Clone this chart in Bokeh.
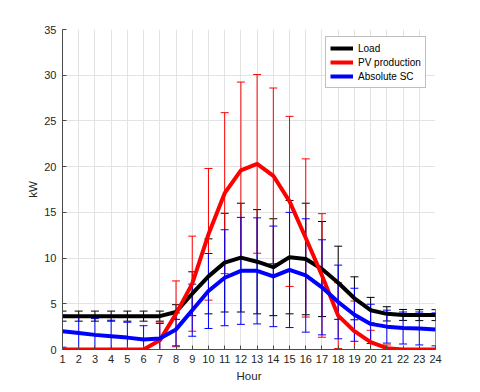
from bokeh.plotting import figure
from bokeh.models import ColumnDataSource, Whisker, TeeHead, FixedTicker, Range1d
from bokeh.embed import file_html
from bokeh.resources import INLINE

hours = list(range(1, 25))

load_mean = [3.65, 3.65, 3.65, 3.65, 3.65, 3.65, 3.65, 4.1, 6.1, 8.0, 9.5, 10.05,
             9.6, 9.0, 10.1, 9.9, 8.8, 7.3, 5.6, 4.3, 3.9, 3.78, 3.76, 3.76]
load_std = [0.55, 0.55, 0.55, 0.55, 0.55, 0.55, 0.55, 0.8, 2.4, 4.1, 5.4, 5.95,
            5.7, 5.3, 6.2, 6.1, 5.2, 4.0, 2.35, 1.4, 0.78, 0.6, 0.6, 0.6]

pv_mean = [0, 0, 0, 0, 0, 0, 1.0, 3.9, 7.2, 12.6, 17.1, 19.6,
           20.3, 19.0, 16.2, 12.2, 8.1, 3.7, 2.0, 0.8, 0.15, 0, 0, 0]
pv_std = [0, 0, 0, 0, 0, 0, 2.0, 3.6, 5.2, 7.2, 8.8, 9.65,
          9.77, 9.6, 9.3, 8.65, 6.76, 3.6, 3.3, 1.3, 0.35, 0, 0, 0]

sc_mean = [2.0, 1.8, 1.6, 1.45, 1.3, 1.1, 1.2, 2.2, 4.3, 6.4, 7.85, 8.6,
           8.6, 8.0, 8.7, 8.1, 6.8, 5.2, 3.8, 2.8, 2.5, 2.35, 2.3, 2.2]
sc_std = [1.75, 1.84, 1.78, 1.75, 1.68, 1.5, 1.65, 1.8, 2.85, 4.1, 5.25, 5.85,
          5.8, 5.5, 6.3, 6.2, 5.2, 4.03, 2.9, 2.15, 1.8, 1.75, 1.8, 1.8]

series = [
    ("Load", load_mean, load_std, "#000000"),
    ("PV production", pv_mean, pv_std, "#ff0000"),
    ("Absolute SC", sc_mean, sc_std, "#0000ff"),
]

x_ticks = list(range(1, 25))
y_ticks = [0, 5, 10, 15, 20, 25, 30, 35]

p = figure(width=464, height=384, output_backend="svg", toolbar_location=None,
           x_range=Range1d(1, 24), y_range=Range1d(0, 35),
           min_border_left=62, min_border_right=29, min_border_top=29, min_border_bottom=35)

FONT = "Liberation Sans"
TXT = "#262626"

for name, m, s, c in series:
    src = ColumnDataSource(dict(x=hours, y=m,
                                lo=[a - b for a, b in zip(m, s)],
                                hi=[a + b for a, b in zip(m, s)]))
    w = Whisker(source=src, base="x", upper="hi", lower="lo",
                line_color=c, line_width=1,
                upper_head=TeeHead(size=8, line_color=c, line_width=1),
                lower_head=TeeHead(size=8, line_color=c, line_width=1))
    p.add_layout(w)
    p.line("x", "y", source=src, line_color=c, line_width=4, legend_label=name)

p.outline_line_color = None
p.background_fill_color = "white"
p.border_fill_color = "white"

for ax in (p.xaxis[0], p.yaxis[0]):
    ax.axis_line_color = "#4a4a4a"
    ax.major_tick_line_color = "#4a4a4a"
    ax.major_tick_in = 4
    ax.major_tick_out = 0
    ax.minor_tick_line_color = None
    ax.major_label_text_font = FONT
    ax.major_label_text_font_size = "11px"
    ax.major_label_text_color = TXT
    ax.axis_label_text_font = FONT
    ax.axis_label_text_font_size = "11.5px"
    ax.axis_label_text_font_style = "normal"
    ax.axis_label_text_color = TXT

p.xaxis.ticker = FixedTicker(ticks=x_ticks)
p.yaxis.ticker = FixedTicker(ticks=y_ticks)
p.xaxis.axis_label = "Hour"
p.yaxis.axis_label = "kW"
p.xaxis.major_label_standoff = 5
p.xaxis.axis_label_standoff = 4
p.yaxis.major_label_standoff = 6
p.yaxis.axis_label_standoff = 2

p.xgrid.ticker = FixedTicker(ticks=x_ticks)
p.ygrid.ticker = FixedTicker(ticks=y_ticks)
p.grid.grid_line_color = "#e3e3e3"
p.grid.grid_line_width = 1

lg = p.legend[0]
lg.location = (263, 261)
lg.label_text_font = FONT
lg.label_text_font_size = "10px"
lg.label_text_color = "#000000"
lg.glyph_width = 23
lg.glyph_height = 14
lg.label_height = 14
lg.label_standoff = 5
lg.spacing = 0
lg.padding = 4
lg.margin = 0
lg.border_line_color = "#7f7f7f"
lg.border_line_width = 1
lg.background_fill_color = "white"
lg.background_fill_alpha = 1

open("out.html", "w").write(file_html(p, INLINE))
